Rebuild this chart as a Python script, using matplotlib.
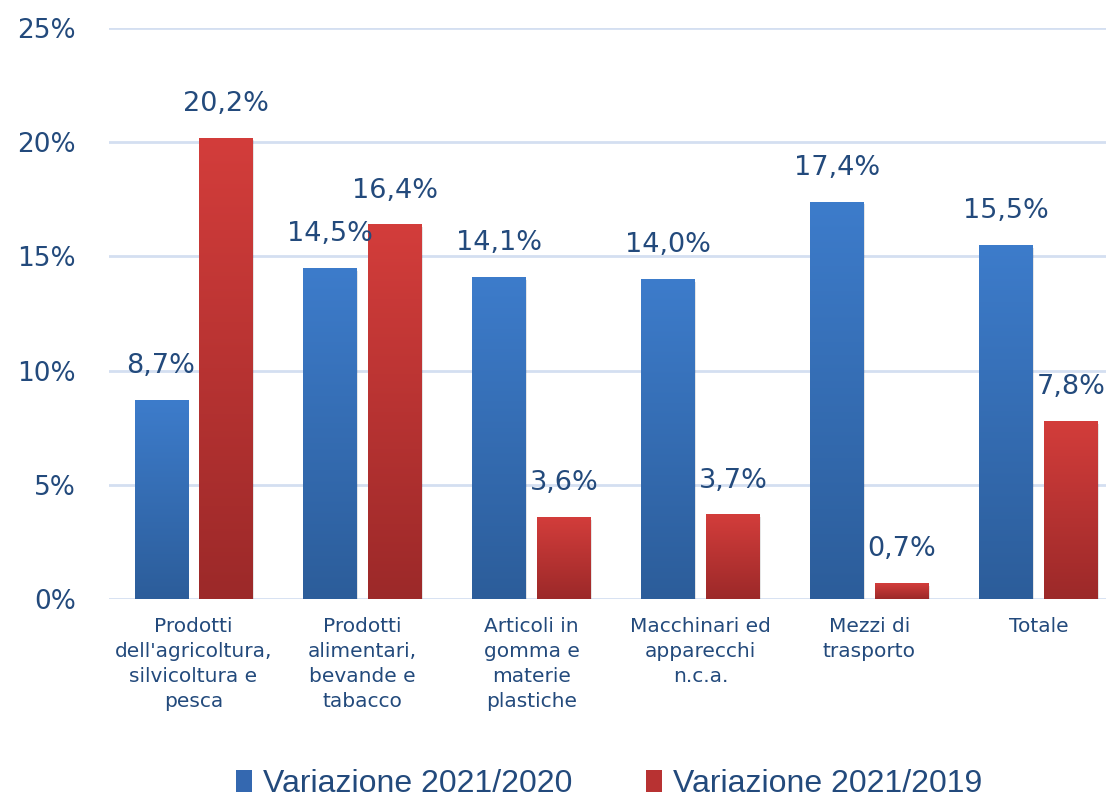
import numpy as np
import matplotlib
matplotlib.use("Agg")
import matplotlib.pyplot as plt
from matplotlib.colors import LinearSegmentedColormap
from matplotlib.patches import Patch

categories = [
    "Prodotti\ndell'agricoltura,\nsilvicoltura e\npesca",
    "Prodotti\nalimentari,\nbevande e\ntabacco",
    "Articoli in\ngomma e\nmaterie\nplastiche",
    "Macchinari ed\napparecchi\nn.c.a.",
    "Mezzi di\ntrasporto",
    "Totale",
]
var_2021_2020 = [8.7, 14.5, 14.1, 14.0, 17.4, 15.5]
var_2021_2019 = [20.2, 16.4, 3.6, 3.7, 0.7, 7.8]
series_names = ["Variazione 2021/2020", "Variazione 2021/2019"]

text_col = "#234A7C"
grid_col = "#D4DFF1"
blue_cmap = LinearSegmentedColormap.from_list("b", ["#2C5D9A", "#3D7CCB"])
red_cmap = LinearSegmentedColormap.from_list("r", ["#9C2929", "#D33D3B"])

fig = plt.figure(figsize=(11.06, 7.97), dpi=100)
ax = fig.add_axes([109 / 1106, 1 - 599 / 797, 1 - 109 / 1106, (599 - 28) / 797])

x = np.arange(len(categories))
w = 0.314
off = 0.192
grad = np.linspace(0, 1, 256).reshape(-1, 1)


def gradient_bars(xs, vals, cmap):
    bars = ax.bar(xs, vals, w, color="none", zorder=3)
    for b in bars:
        x0, h = b.get_x(), b.get_height()
        # soft shadow
        ax.bar(x0 + w / 2 + 0.008, h, w, bottom=-0.12, color="#000000",
               alpha=0.10, zorder=2, linewidth=0)
        im = ax.imshow(grad, cmap=cmap, aspect="auto", origin="lower",
                       extent=[x0, x0 + w, 0, h], zorder=3)
        im.set_clip_path(b)
    return bars


b1 = gradient_bars(x - off, var_2021_2020, blue_cmap)
b2 = gradient_bars(x + off, var_2021_2019, red_cmap)

for bars, vals in [(b1, var_2021_2020), (b2, var_2021_2019)]:
    for b, v in zip(bars, vals):
        ax.annotate(f"{v:.1f}%".replace(".", ","),
                    (b.get_x() + b.get_width() / 2, v),
                    xytext=(0, 15), textcoords="offset points",
                    ha="center", va="bottom", fontsize=19.5, color=text_col)

ax.set_xlim(-0.5, 5.4)
ax.set_ylim(0, 25)
ax.set_yticks(range(0, 26, 5))
ax.set_yticklabels([f"{t}%" for t in range(0, 26, 5)])
ax.yaxis.grid(True, color=grid_col, linewidth=2)
ax.set_axisbelow(True)
for s in ax.spines.values():
    s.set_visible(False)
ax.tick_params(axis="y", length=0, pad=24, labelsize=19, labelcolor=text_col)
ax.set_xticks(x)
ax.set_xticklabels(categories, fontsize=14.5, color=text_col, linespacing=1.4)
ax.tick_params(axis="x", length=0, pad=13)

handles = [Patch(facecolor="#3468B0"), Patch(facecolor="#B83232")]
fig.legend(handles, series_names, loc="center", bbox_to_anchor=(0.551, 0.016),
           ncol=2, frameon=False, handlelength=0.5, handleheight=0.65,
           handletextpad=0.35, columnspacing=2.3,
           prop={"family": ["Liberation Sans", "DejaVu Sans"], "size": 23},
           labelcolor=text_col)

fig.savefig("out.png", dpi=100)
